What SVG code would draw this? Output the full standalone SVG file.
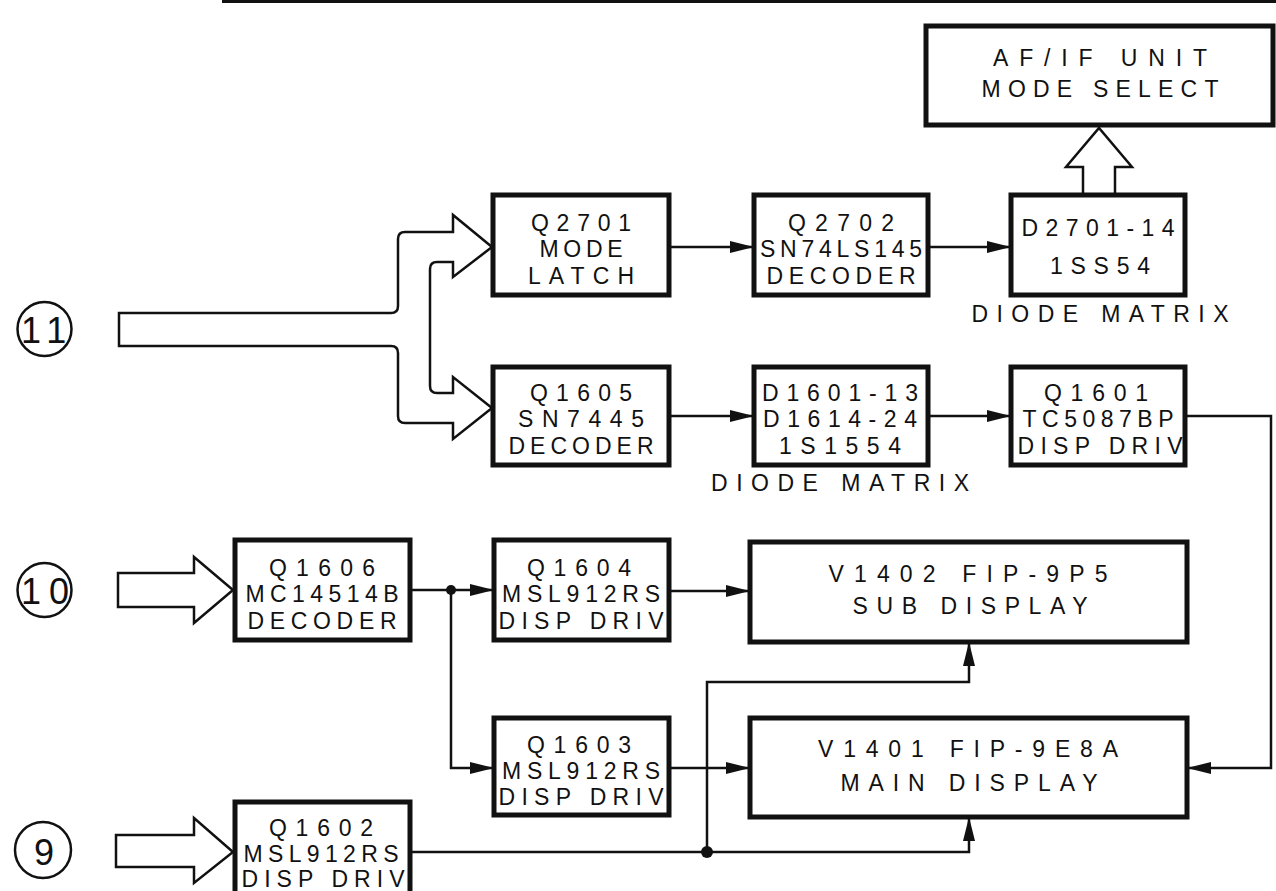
<svg xmlns="http://www.w3.org/2000/svg" width="1276" height="891" viewBox="0 0 1276 891">
<defs>
<style>
.box{fill:#fff;stroke:#111;stroke-width:5}
.bus{fill:#fff;stroke:#111;stroke-width:2.5;stroke-linejoin:miter}
.ln{fill:none;stroke:#111;stroke-width:2.5}
.t{font-family:"Liberation Sans",Arial,sans-serif;font-size:23px;fill:#111;text-anchor:middle}
.n{font-family:"Liberation Sans",Arial,sans-serif;font-size:36px;fill:#111}
.circ{fill:none;stroke:#111;stroke-width:2.5}
.dot{fill:#111}
</style>
<marker id="ah" markerUnits="userSpaceOnUse" markerWidth="26" markerHeight="14" refX="24" refY="6" orient="auto">
<path d="M0,0 L24,6 L0,12 z" fill="#111"/>
</marker>
</defs>
<rect width="1276" height="891" fill="#fff"/>
<rect x="222" y="0" width="1054" height="3" fill="#111"/>

<g id="in11">
<circle class="circ" cx="44.5" cy="329" r="27"/>
<text class="n" x="21" y="343" letter-spacing="8">11</text>
</g>
<g id="in10">
<circle class="circ" cx="44.5" cy="590" r="27"/>
<text class="n" x="21" y="604" letter-spacing="8">10</text>
</g>
<g id="in9">
<circle class="circ" cx="43" cy="850" r="28"/>
<text class="n" x="44" y="865" text-anchor="middle">9</text>
</g>

<g id="bus11">
<path class="bus" d="M492,247 L453,277 L453,262 L437,262 Q430,262 430,269 L430,386 Q430,393 437,393 L453,393 L453,377 L492,408 L453,439 L453,423 L405,423 Q398,423 398,416 L398,353 Q398,346 391,346 L119,346 L119,313 L391,313 Q398,313 398,306 L398,239 Q398,232 405,232 L453,232 L453,215 Z"/>
</g>
<g id="bus10">
<path class="bus" d="M118,573 L194,573 L194,557 L233,590 L194,623 L194,607 L118,607 Z"/>
</g>
<g id="bus9">
<path class="bus" d="M116,835 L194,835 L194,818 L233,852 L194,883 L194,867 L116,867 Z"/>
</g>

<g id="afif">
<rect class="box" x="926" y="26" width="347" height="99"/>
<text class="t" x="1100" y="66" textLength="214" lengthAdjust="spacing">AF/IF UNIT</text>
<text class="t" x="1100" y="97" textLength="237" lengthAdjust="spacing">MODE SELECT</text>
</g>
<g id="modebus">
<path class="bus" d="M1083,197 L1083,167 L1066,167 L1099,128 L1132,167 L1115,167 L1115,197"/>
</g>

<g id="q2701">
<rect class="box" x="493" y="195" width="176" height="100"/>
<text class="t" x="581" y="231" textLength="100" lengthAdjust="spacing">Q2701</text>
<text class="t" x="581" y="257" textLength="83" lengthAdjust="spacing">MODE</text>
<text class="t" x="581" y="284" textLength="106" lengthAdjust="spacing">LATCH</text>
</g>
<g id="q2702">
<rect class="box" x="754" y="195" width="174" height="100"/>
<text class="t" x="841" y="231" textLength="106" lengthAdjust="spacing">Q2702</text>
<text class="t" x="841" y="257" textLength="162" lengthAdjust="spacing">SN74LS145</text>
<text class="t" x="841" y="284" textLength="149" lengthAdjust="spacing">DECODER</text>
</g>
<g id="d2701">
<rect class="box" x="1011" y="195" width="174" height="100"/>
<text class="t" x="1098" y="236" textLength="153" lengthAdjust="spacing">D2701-14</text>
<text class="t" x="1100" y="274" textLength="100" lengthAdjust="spacing">1SS54</text>
<text class="t" x="1100" y="322" textLength="257" lengthAdjust="spacing">DIODE MATRIX</text>
</g>

<g id="q1605">
<rect class="box" x="493" y="367" width="176" height="98"/>
<text class="t" x="581" y="401" textLength="102" lengthAdjust="spacing">Q1605</text>
<text class="t" x="581" y="427" textLength="126" lengthAdjust="spacing">SN7445</text>
<text class="t" x="581" y="454" textLength="145" lengthAdjust="spacing">DECODER</text>
</g>
<g id="d1601">
<rect class="box" x="754" y="367" width="174" height="98"/>
<text class="t" x="840" y="401" textLength="156" lengthAdjust="spacing">D1601-13</text>
<text class="t" x="840" y="427" textLength="154" lengthAdjust="spacing">D1614-24</text>
<text class="t" x="840" y="454" textLength="122" lengthAdjust="spacing">1S1554</text>
<text class="t" x="840" y="491" textLength="258" lengthAdjust="spacing">DIODE MATRIX</text>
</g>
<g id="q1601">
<rect class="box" x="1011" y="367" width="174" height="98"/>
<text class="t" x="1096" y="401" textLength="104" lengthAdjust="spacing">Q1601</text>
<text class="t" x="1098" y="427" textLength="151" lengthAdjust="spacing">TC5087BP</text>
<text class="t" x="1100" y="454" textLength="165" lengthAdjust="spacing">DISP DRIV</text>
</g>

<g id="q1606">
<rect class="box" x="235" y="540" width="175" height="100"/>
<text class="t" x="322" y="576" textLength="106" lengthAdjust="spacing">Q1606</text>
<text class="t" x="322" y="602" textLength="153" lengthAdjust="spacing">MC14514B</text>
<text class="t" x="322" y="629" textLength="149" lengthAdjust="spacing">DECODER</text>
</g>
<g id="q1604">
<rect class="box" x="494" y="540" width="175" height="100"/>
<text class="t" x="579" y="576" textLength="104" lengthAdjust="spacing">Q1604</text>
<text class="t" x="581" y="602" textLength="158" lengthAdjust="spacing">MSL912RS</text>
<text class="t" x="581" y="629" textLength="165" lengthAdjust="spacing">DISP DRIV</text>
</g>
<g id="v1402">
<rect class="box" x="750" y="542" width="437" height="100"/>
<text class="t" x="968" y="582" textLength="279" lengthAdjust="spacing">V1402 FIP-9P5</text>
<text class="t" x="970" y="614" textLength="235" lengthAdjust="spacing">SUB DISPLAY</text>
</g>

<g id="q1603">
<rect class="box" x="494" y="718" width="175" height="97"/>
<text class="t" x="579" y="753" textLength="104" lengthAdjust="spacing">Q1603</text>
<text class="t" x="581" y="779" textLength="158" lengthAdjust="spacing">MSL912RS</text>
<text class="t" x="581" y="805" textLength="165" lengthAdjust="spacing">DISP DRIV</text>
</g>
<g id="v1401">
<rect class="box" x="750" y="718" width="437" height="99"/>
<text class="t" x="968" y="757" textLength="300" lengthAdjust="spacing">V1401 FIP-9E8A</text>
<text class="t" x="969" y="791" textLength="257" lengthAdjust="spacing">MAIN DISPLAY</text>
</g>

<g id="q1602">
<rect class="box" x="235" y="802" width="175" height="100"/>
<text class="t" x="321" y="836" textLength="104" lengthAdjust="spacing">Q1602</text>
<text class="t" x="321" y="862" textLength="155" lengthAdjust="spacing">MSL912RS</text>
<text class="t" x="323" y="887" textLength="163" lengthAdjust="spacing">DISP DRIV</text>
</g>

<g id="connectors">
<line class="ln" x1="669" y1="247" x2="754" y2="247" marker-end="url(#ah)"/>
<line class="ln" x1="928" y1="247" x2="1011" y2="247" marker-end="url(#ah)"/>
<line class="ln" x1="669" y1="416" x2="754" y2="416" marker-end="url(#ah)"/>
<line class="ln" x1="928" y1="416" x2="1011" y2="416" marker-end="url(#ah)"/>
<polyline class="ln" points="1185,416 1271,416 1271,768 1187,768" marker-end="url(#ah)"/>
<line class="ln" x1="410" y1="590" x2="494" y2="590" marker-end="url(#ah)"/>
<polyline class="ln" points="451,590 451,768 494,768" marker-end="url(#ah)"/>
<line class="ln" x1="669" y1="591" x2="750" y2="591" marker-end="url(#ah)"/>
<line class="ln" x1="669" y1="768" x2="750" y2="768" marker-end="url(#ah)"/>
<polyline class="ln" points="410,852 969,852 969,817" marker-end="url(#ah)"/>
<polyline class="ln" points="707,852 707,682 969,682 969,642" marker-end="url(#ah)"/>
<circle class="dot" cx="451" cy="590" r="5"/>
<circle class="dot" cx="707" cy="852" r="6"/>
</g>
</svg>
